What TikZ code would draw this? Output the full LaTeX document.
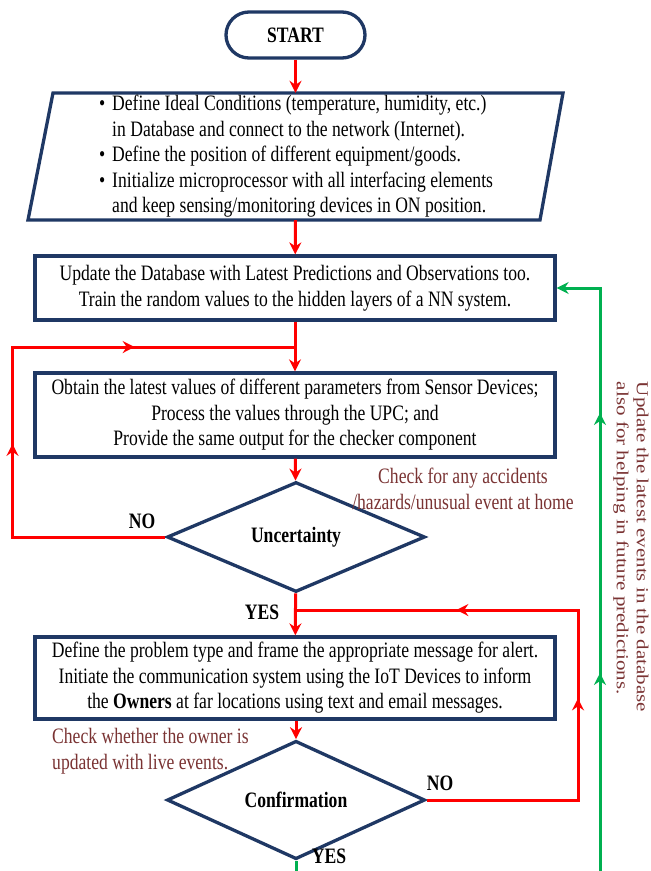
\documentclass[tikz,border=0pt]{standalone}
\usepackage{fontspec}
\setmainfont[FakeStretch=0.8]{Liberation Serif}
\newfontfamily\notefont{Liberation Serif}
\usetikzlibrary{arrows.meta,shapes.geometric,decorations.markings}

\definecolor{navy}{HTML}{1F3864}
\definecolor{flowred}{HTML}{FF0000}
\definecolor{flowgreen}{HTML}{00B050}
\definecolor{notebrown}{HTML}{7A3333}

\tikzset{
  tip/.tip={Stealth[length=12pt,width=12pt,inset=4pt]},
  txt/.style={font=\fontsize{22}{25.5}\selectfont},
  box/.style={txt, draw=navy, line width=3.3pt, fill=white, inner sep=0pt,
    align=center, minimum width=520pt},
  decision/.style={txt, draw=navy, line width=3.3pt, fill=white, shape=diamond,
    inner sep=0pt, minimum width=258pt, minimum height=90pt, font=\fontsize{22}{25.5}\selectfont\bfseries},
  flow/.style={draw=flowred, line width=3pt, -tip},
  loopline/.style={draw=flowred, line width=3pt},
  feedback/.style={draw=flowgreen, line width=3pt},
  marks/.style n args={3}{postaction={decorate}, decoration={markings,
    mark=at position #1 with {\arrow{Stealth[length=12pt,width=12pt,inset=4pt,color=#3]}},
    mark=at position #2 with {\arrow{Stealth[length=12pt,width=12pt,inset=4pt,color=#3]}}}},
  tag/.style={txt, font=\fontsize{22}{25.5}\selectfont\bfseries},
  note/.style={txt, text=notebrown},
}

\begin{document}
\begin{tikzpicture}[x=1pt,y=-1pt]
  \fill[white] (0,0) rectangle (651,871);
  \useasboundingbox (0,0) rectangle (651,871);

  % terminal
  \node[txt, draw=navy, line width=3.3pt, rounded corners=23pt, minimum width=139pt,
        minimum height=46pt, inner sep=0pt, font=\fontsize{22}{25.5}\selectfont\bfseries]
        (start) at (295.5,35) {START};

  % input/output parallelogram
  \draw[navy, line width=3.3pt, line join=miter] (53,93) -- (563,93) -- (540,220) -- (28,220) -- cycle;
  \node[txt, align=left, minimum height=127pt, inner sep=0pt] (init) at (296,156.5)
    {\textbullet\hspace{7pt}Define Ideal Conditions (temperature, humidity, etc.)\\
     \hphantom{\textbullet\hspace{7pt}}in Database and connect to the network (Internet).\\
     \textbullet\hspace{7pt}Define the position of different equipment/goods.\\
     \textbullet\hspace{7pt}Initialize microprocessor with all interfacing elements\\
     \hphantom{\textbullet\hspace{7pt}}and keep sensing/monitoring devices in ON position.};

  % process boxes
  \node[box, minimum height=64pt] (update) at (295,288)
    {Update the Database with Latest Predictions and Observations too.\\
     Train the random values to the hidden layers of a NN system.};
  \node[box, minimum height=84pt] (obtain) at (295,415)
    {Obtain the latest values of different parameters from Sensor Devices;\\
     Process the values through the UPC; and\\
     Provide the same output for the checker component};
  \node[decision] (uncert) at (296,537) {Uncertainty};
  \node[box, minimum height=82pt] (alert) at (295,678)
    {Define the problem type and frame the appropriate message for alert.\\
     Initiate the communication system using the IoT Devices to inform\\
     the \textbf{Owners} at far locations using text and email messages.};
  \node[decision] (confirm) at (296,800) {Confirmation};

  % junctions and free ends
  \coordinate (j1) at (295,347);
  \coordinate (j2) at (295,610);
  \coordinate (cb) at (296,871);
  \coordinate (gb) at (600,871);

  % main flow
  \draw[flow] (start) -- (init.north -| start);
  \draw[flow] (init.south -| start) -- (update);
  \draw[flow] (update) -- (obtain);
  \draw[flow] (obtain) -- (uncert);
  \draw[flow] (uncert) -- (alert);
  \draw[flow] (alert.south -| confirm) -- (confirm);

  % loops
  \draw[loopline, marks={246pt}{465pt}{flowred}]
    (uncert.west) -- (12.5,537) -- (12.5,347) -- (j1);
  \draw[loopline, marks={253pt}{463pt}{flowred}]
    (confirm.east) -- (578,800) -- (578,610) -- (j2);

  % feedback to the database
  \draw[feedback] (confirm.south) -- (cb);
  \draw[feedback, -tip, marks={198pt}{458pt}{flowgreen}]
    (gb) -- (600,288) -- (update.east);

  % branch labels
  \node[tag] (no1) at (142,521) {NO};
  \node[tag] (yes1) at (262,612) {YES};
  \node[tag] (no2) at (440,783) {NO};
  \node[tag] (yes2) at (329,856) {YES};

  % notes
  \node[note, align=center] (n1) at (463,489)
    {Check for any accidents\\/hazards/unusual event at home};
  \node[note, align=left, anchor=west, inner sep=0pt] (n2) at (52,751)
    {Check whether the owner is\\updated with live events.};
  \node[text=notebrown, align=left, rotate=-90, yscale=0.8,
        font=\notefont\fontsize{21}{25}\selectfont] (n3) at (631,547)
    {Update the latest events in the database\\also for helping in future predictions.};
\end{tikzpicture}
\end{document}
